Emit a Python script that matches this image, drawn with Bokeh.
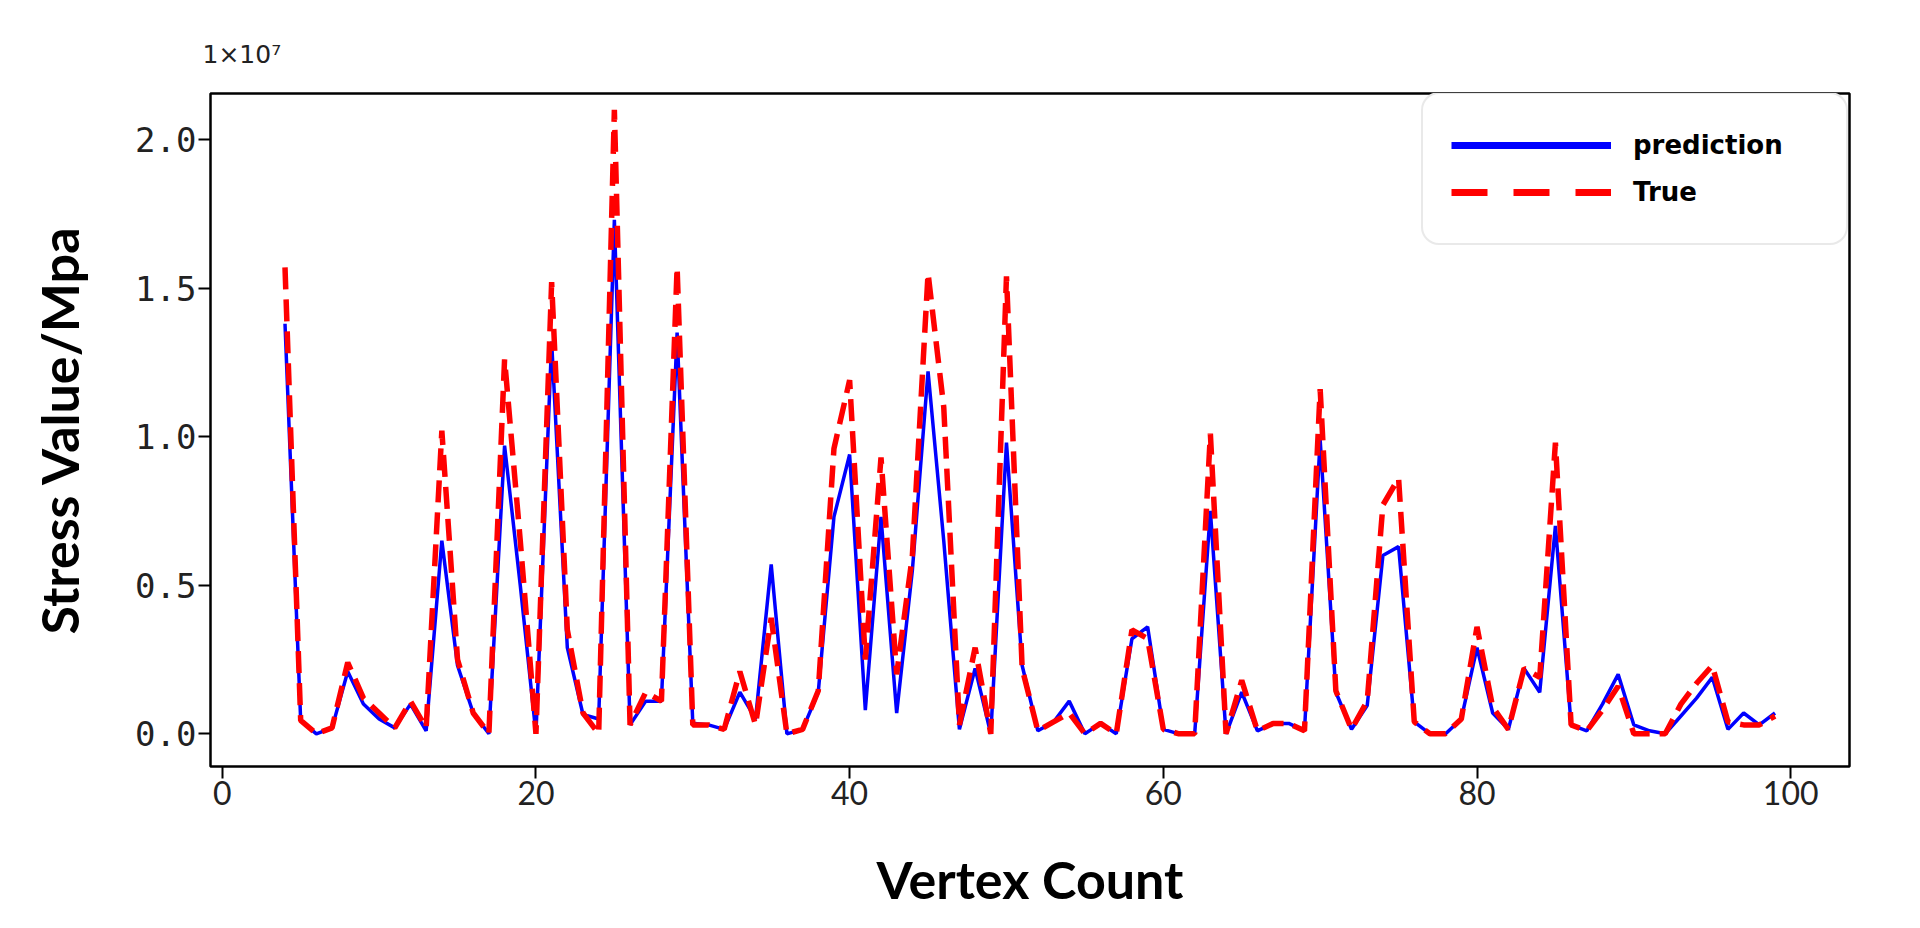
from bokeh.plotting import figure
from bokeh.models import Range1d, FixedTicker, Legend, LegendItem, ColumnDataSource
from bokeh.embed import file_html
from bokeh.resources import INLINE

# ---- data (stress values in units of 1e7) ----
vertex = list(range(4, 100))
prediction = [
    1.38, 0.045, 0.0, 0.02, 0.21, 0.10, 0.05, 0.02, 0.10, 0.01,      # 4-13
    0.65, 0.23, 0.07, 0.0, 0.97, 0.50, 0.0, 1.32, 0.29, 0.065,       # 14-23
    0.05, 1.73, 0.03, 0.11, 0.11, 1.35, 0.036, 0.03, 0.015, 0.14,    # 24-33
    0.05, 0.57, 0.0, 0.015, 0.14, 0.73, 0.94, 0.08, 0.73, 0.07,      # 34-43
    0.55, 1.22, 0.65, 0.015, 0.22, 0.0, 0.98, 0.23, 0.01, 0.04,      # 44-53
    0.11, 0.0, 0.035, 0.0, 0.32, 0.36, 0.015, 0.0, 0.0, 0.75,        # 54-63
    0.0, 0.14, 0.01, 0.035, 0.035, 0.01, 0.99, 0.14, 0.015, 0.095,   # 64-73
    0.60, 0.63, 0.04, 0.0, 0.0, 0.05, 0.29, 0.07, 0.015, 0.22,       # 74-83
    0.14, 0.70, 0.03, 0.01, 0.10, 0.20, 0.03, 0.01, 0.0, 0.06,       # 84-93
    0.12, 0.19, 0.015, 0.07, 0.03, 0.07,                             # 94-99
]
true_vals = [
    1.57, 0.045, 0.0, 0.02, 0.24, 0.12, 0.07, 0.02, 0.11, 0.02,      # 4-13
    1.02, 0.25, 0.07, 0.0, 1.26, 0.65, 0.0, 1.52, 0.35, 0.07,        # 14-23
    0.0, 2.10, 0.03, 0.14, 0.11, 1.57, 0.03, 0.03, 0.015, 0.21,      # 24-33
    0.03, 0.39, 0.0, 0.015, 0.145, 0.96, 1.19, 0.25, 0.93, 0.20,     # 34-43
    0.60, 1.55, 1.10, 0.03, 0.29, 0.0, 1.54, 0.22, 0.01, 0.04,       # 44-53
    0.07, 0.0, 0.035, 0.0, 0.35, 0.32, 0.015, 0.0, 0.0, 1.01,        # 54-63
    0.0, 0.18, 0.01, 0.035, 0.035, 0.01, 1.16, 0.145, 0.015, 0.11,   # 64-73
    0.77, 0.86, 0.04, 0.0, 0.0, 0.05, 0.36, 0.09, 0.015, 0.22,       # 74-83
    0.19, 0.98, 0.03, 0.01, 0.08, 0.16, 0.0, 0.0, 0.0, 0.10,         # 84-93
    0.17, 0.23, 0.04, 0.03, 0.03, 0.06,                              # 94-99
]
x_ticks = [0, 20, 40, 60, 80, 100]
y_ticks = [0.0, 0.5, 1.0, 1.5, 2.0]
y_tick_labels = ["0.0", "0.5", "1.0", "1.5", "2.0"]
series_names = ["prediction", "True"]
scale_label = "1\u00d710\u2077"

# ---- layout (figure px) ----
W, H = 1904, 912
FL, FT, FR, FB = 210, 93, 1849, 772   # frame edges inside figure

p = figure(width=W, height=H, output_backend="svg", toolbar_location=None,
           x_range=Range1d(-0.75, 103.75), y_range=Range1d(-0.11, 2.155),
           min_border_left=FL, min_border_top=FT,
           min_border_right=W - FR, min_border_bottom=H - FB,
           background_fill_color="white", border_fill_color="white",
           title=scale_label)

p.title.text_font = "DejaVu Sans"
p.title.text_font_size = "25px"
p.title.text_font_style = "normal"
p.title.text_color = "#222222"
p.title.align = "left"
p.title.offset = -8
p.title.standoff = 50

p.grid.visible = False
p.outline_line_color = "black"
p.outline_line_width = 2.5
p.outline_line_alpha = 1.0

src = ColumnDataSource(dict(x=vertex, pred=prediction, true=true_vals))
p.line("x", "pred", source=src, line_color="blue", line_width=3.5)
p.line("x", "true", source=src, line_color="red", line_width=5.5, line_dash="22 10")

# legend-only renderers (thicker samples as in the reference legend)
nan = float("nan")
lg_src = ColumnDataSource(dict(x=[nan, nan], y=[nan, nan]))
r_pred = p.line("x", "y", source=lg_src, line_color="blue", line_width=7)
r_true = p.line("x", "y", source=lg_src, line_color="red", line_width=7, line_dash="36 26")

for ax in (p.xaxis[0], p.yaxis[0]):
    ax.axis_line_color = None
    ax.major_tick_line_color = "black"
    ax.major_tick_line_width = 2
    ax.major_tick_out = 12
    ax.major_tick_in = 0
    ax.minor_tick_line_color = None
    ax.major_label_text_color = "#222222"
    ax.axis_label_text_color = "black"
    ax.axis_label_text_font = "Lato"
    ax.axis_label_text_font_style = "bold"
    ax.axis_label_text_font_size = "52px"

p.xaxis.ticker = FixedTicker(ticks=x_ticks)
p.xaxis.major_label_text_font = "Lato"
p.xaxis.major_label_text_font_size = "32px"
p.xaxis.major_label_standoff = 2
p.xaxis.axis_label = "Vertex Count"
p.xaxis.axis_label_standoff = 40

p.yaxis.ticker = FixedTicker(ticks=y_ticks)
p.yaxis.major_label_overrides = {t: s for t, s in zip(y_ticks, y_tick_labels)}
p.yaxis.major_label_text_font = "DejaVu Sans Mono"
p.yaxis.major_label_text_font_size = "34px"
p.yaxis.major_label_standoff = 2
p.yaxis.axis_label = "Stress Value/Mpa"
p.yaxis.axis_label_standoff = 42

# legend box (figure px): left 1421, bottom 251
leg_left, leg_bottom = 1421, 251
legend = Legend(items=[LegendItem(label=series_names[0], renderers=[r_pred]),
                       LegendItem(label=series_names[1], renderers=[r_true])],
                location=(leg_left - FL, FB - leg_bottom),
                glyph_width=160, glyph_height=46, label_height=46,
                label_standoff=22, label_width=185, padding=28, spacing=1,
                label_text_font="DejaVu Sans", label_text_font_style="bold",
                label_text_font_size="26px", label_text_color="black",
                border_line_color="#d4d4d4", border_line_width=2.5,
                background_fill_color="white", background_fill_alpha=1.0)
if "border_radius" in Legend.properties():
    legend.border_radius = 18
p.add_layout(legend, "center")

open("out.html", "w").write(file_html(p, INLINE))
